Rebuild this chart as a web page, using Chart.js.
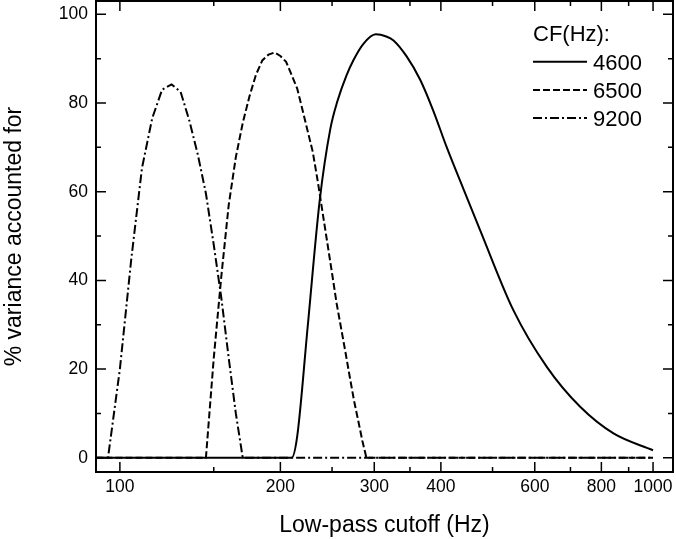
<!DOCTYPE html>
<html>
<head>
<meta charset="utf-8">
<script src="https://cdn.jsdelivr.net/npm/chart.js@4.4.1/dist/chart.umd.min.js"></script>
<style>
  html, body { margin: 0; padding: 0; background: #fff; }
</style>
</head>
<body>
<canvas id="myChart" width="676" height="539"></canvas>
<script>
// CF = 4600 Hz (solid)
const hz4600 = [90, 210, 215, 225, 237, 248, 256, 266, 274, 286, 302, 316, 326, 345, 366, 387, 410, 441, 474, 547, 632, 730, 843, 1000];
const pct4600 = [0, 0, 4.7, 29.5, 58, 74, 80.5, 86.2, 89.6, 93.3, 95.5, 95.0, 94.1, 90.5, 85.2, 78.3, 70.1, 60.6, 51.3, 33.3, 20.5, 11.5, 5.5, 1.7];

// CF = 6500 Hz (dashed)
const hz6500 = [90, 145, 150, 155, 160, 165, 170, 175, 180, 185, 190, 195, 200, 205, 210, 215, 220, 225,
  230, 235, 240, 245, 250, 255, 260, 265, 270, 275, 280, 285, 290, 1000];
const pct6500 = [0, 0, 22.5, 41, 57, 67.8, 75.5, 81.5, 86.4, 89.6, 90.9, 91.4, 90.6, 89.3, 86.3, 83.3, 78.5, 73.7,
  69, 62.4, 55.3, 48.4, 41.6, 34.8, 29.2, 23.7, 18.1, 12.8, 8.3, 3.8, 0, 0];

// CF = 9200 Hz (dash-dot)
const hz9200 = [90, 95, 100, 105, 110, 115, 120, 125, 130, 135, 140, 145, 150, 155, 160, 165, 170, 1000];
const pct9200 = [0, 0, 20, 44.6, 65.3, 76.6, 83, 84.2, 82.5, 76, 68.4, 59.6, 48, 36, 22.5, 10, 0, 0];

const xTicks = [100, 150, 200, 250, 300, 350, 400, 500, 600, 700, 800, 900, 1000];
const xLabels = [100, 200, 300, 400, 600, 800, 1000];
const yTicks = [0, 10, 20, 30, 40, 50, 60, 70, 80, 90, 100];
const yLabels = [0, 20, 40, 60, 80, 100];

const fontFamily = '"Liberation Sans", Arial, sans-serif';

function toPoints(xs, ys) {
  return xs.map((x, i) => ({ x: x, y: ys[i] }));
}

// frame and inward tick marks
const framePlugin = {
  id: "frame",
  afterDraw(chart) {
    const ctx = chart.ctx;
    const a = chart.chartArea;
    const x = chart.scales.x;
    const y = chart.scales.y;
    ctx.save();
    ctx.strokeStyle = "#000";
    ctx.lineWidth = 1.5;
    ctx.beginPath();
    xTicks.forEach(v => {
      const px = x.getPixelForValue(v);
      const len = xLabels.includes(v) ? 10 : 5;
      ctx.moveTo(px, a.bottom);
      ctx.lineTo(px, a.bottom - len);
      ctx.moveTo(px, a.top);
      ctx.lineTo(px, a.top + len);
    });
    yTicks.forEach(v => {
      const py = y.getPixelForValue(v);
      const len = yLabels.includes(v) ? 10 : 5;
      ctx.moveTo(a.left, py);
      ctx.lineTo(a.left + len, py);
      ctx.moveTo(a.right, py);
      ctx.lineTo(a.right - len, py);
    });
    ctx.stroke();
    ctx.lineWidth = 2;
    ctx.strokeRect(a.left, a.top, a.right - a.left, a.bottom - a.top);
    ctx.restore();
  }
};

// legend inside the plot, top right
const legendPlugin = {
  id: "cfLegend",
  afterDraw(chart) {
    const ctx = chart.ctx;
    const left = 533;
    ctx.save();
    ctx.fillStyle = "#000";
    ctx.font = "22px " + fontFamily;
    ctx.textBaseline = "alphabetic";
    ctx.textAlign = "left";
    ctx.fillText("CF(Hz):", left, 41);
    chart.data.datasets.forEach((ds, i) => {
      const base = 69.5 + i * 28.2;
      ctx.beginPath();
      ctx.setLineDash(ds.borderDash || []);
      ctx.strokeStyle = ds.borderColor;
      ctx.lineWidth = ds.borderWidth;
      ctx.moveTo(left, base - 7.8);
      ctx.lineTo(left + 54, base - 7.8);
      ctx.stroke();
      ctx.setLineDash([]);
      ctx.fillText(ds.label, left + 60, base);
    });
    ctx.restore();
  }
};

const myChart = document.getElementById("myChart").getContext("2d");

let totalChart = new Chart(myChart, {
  type: "line",
  data: {
    datasets: [
      {
        label: "4600",
        data: toPoints(hz4600, pct4600),
        borderColor: "#000",
        borderWidth: 2,
        pointRadius: 0,
        cubicInterpolationMode: "monotone",
        fill: false
      },
      {
        label: "6500",
        data: toPoints(hz6500, pct6500),
        borderColor: "#000",
        borderWidth: 2,
        borderDash: [7, 3],
        pointRadius: 0,
        tension: 0,
        fill: false
      },
      {
        label: "9200",
        data: toPoints(hz9200, pct9200),
        borderColor: "#000",
        borderWidth: 2,
        borderDash: [9, 3, 2, 3],
        pointRadius: 0,
        tension: 0,
        fill: false
      }
    ]
  },
  options: {
    responsive: false,
    animation: false,
    devicePixelRatio: 1,
    layout: { padding: { top: 1, right: 3, left: 0, bottom: 0 } },
    plugins: {
      legend: { display: false },
      tooltip: { enabled: false }
    },
    scales: {
      x: {
        type: "logarithmic",
        min: 90.2,
        max: 1090,
        afterBuildTicks: s => { s.ticks = xTicks.map(v => ({ value: v })); },
        afterFit: s => { s.height = 67; s.paddingLeft = 0; s.paddingRight = 0; },
        grid: { display: false, drawTicks: false },
        border: { display: false },
        ticks: {
          autoSkip: false,
          maxRotation: 0,
          padding: 5,
          color: "#000",
          font: { family: fontFamily, size: 17.5 },
          callback: v => xLabels.includes(v) ? String(v) : ""
        },
        title: {
          display: true,
          text: "Low-pass cutoff (Hz)",
          color: "#000",
          font: { family: fontFamily, size: 23 },
          padding: { top: 2, bottom: 0 }
        }
      },
      y: {
        type: "linear",
        min: -3.2,
        max: 103,
        afterBuildTicks: s => { s.ticks = yTicks.map(v => ({ value: v })); },
        afterFit: s => { s.width = 96; s.paddingTop = 0; s.paddingBottom = 0; },
        grid: { display: false, drawTicks: false },
        border: { display: false },
        ticks: {
          autoSkip: false,
          padding: 8,
          color: "#000",
          font: { family: fontFamily, size: 17.5 },
          callback: v => yLabels.includes(v) ? String(v) : ""
        },
        title: {
          display: true,
          text: "% variance accounted for",
          color: "#000",
          font: { family: fontFamily, size: 23 },
          padding: { top: 1, bottom: 0 }
        }
      }
    }
  },
  plugins: [framePlugin, legendPlugin]
});
</script>
</body>
</html>
